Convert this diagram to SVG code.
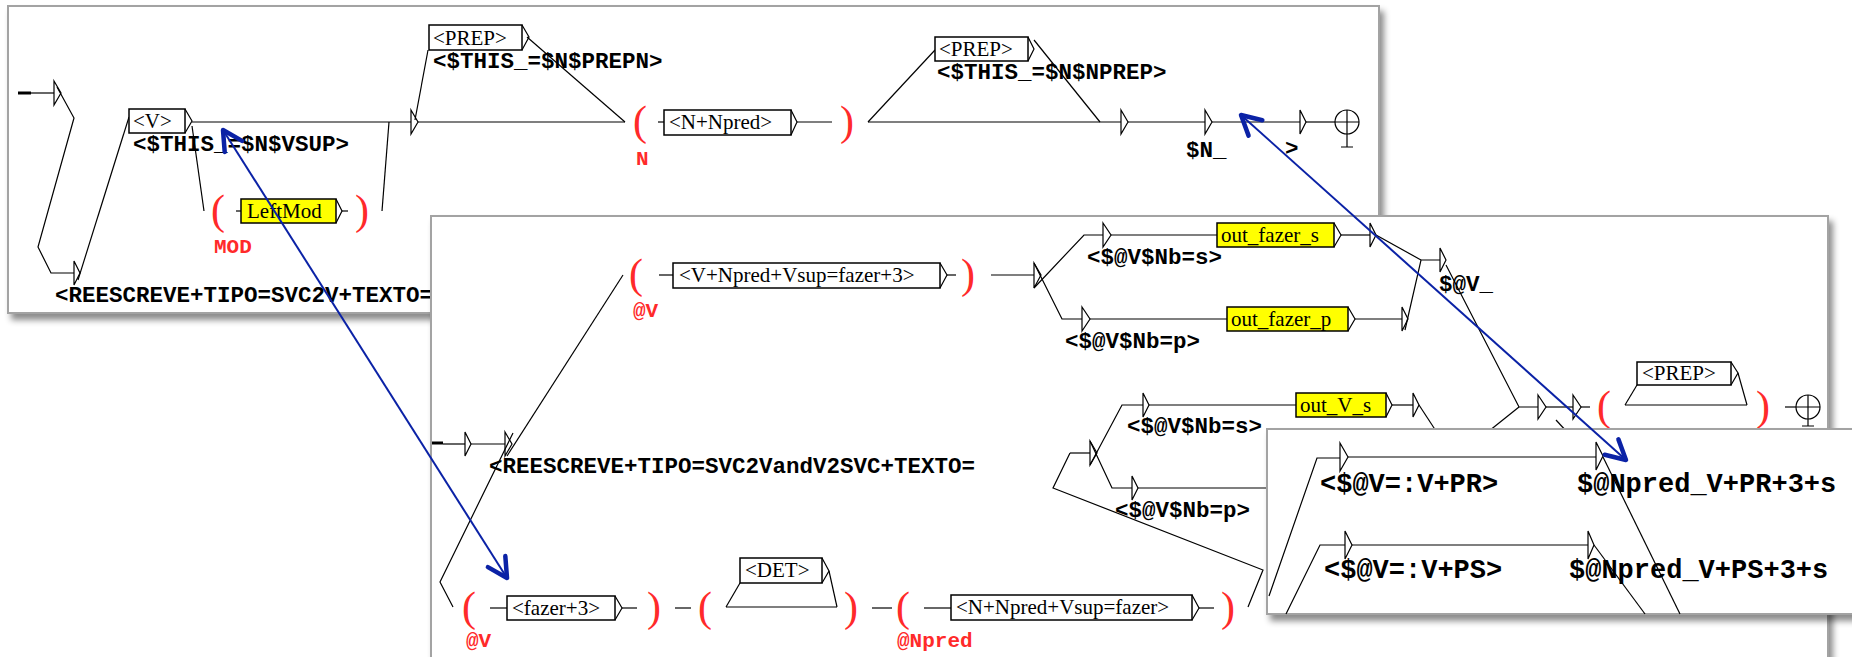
<svg xmlns="http://www.w3.org/2000/svg" width="1852" height="657" viewBox="0 0 1852 657">
<defs>
<filter id="sh" x="-5%" y="-5%" width="112%" height="120%">
<feDropShadow dx="4" dy="6" stdDeviation="3" flood-color="#000" flood-opacity="0.45"/>
</filter>
<marker id="bh" markerUnits="userSpaceOnUse" markerWidth="40" markerHeight="40" refX="0" refY="0" orient="auto-start-reverse" overflow="visible">
<path d="M -19.4 -10.3 L 0 0 L -19.4 10.3" fill="none" stroke="#0b22a6" stroke-width="4.5" stroke-linecap="round" stroke-linejoin="round"/>
</marker>
</defs>
<style>
.win{fill:#fff;stroke:#a3a3a3;stroke-width:2;filter:url(#sh)}
.ln{fill:none;stroke:#000;stroke-width:1.2}
.tk{fill:none;stroke:#000;stroke-width:3}
.tri{fill:none;stroke:#000;stroke-width:1.2}
.box{fill:#fff;stroke:#000;stroke-width:1.5}
.yb{fill:#ffff00;stroke:#000;stroke-width:1.5}
.bt{font-family:"Liberation Serif",serif;font-size:21px;fill:#000}
.out{font-family:"Liberation Mono",monospace;font-weight:bold;font-size:22.5px;fill:#000}
.out3{font-family:"Liberation Mono",monospace;font-weight:bold;font-size:27px;fill:#000}
.var{font-family:"Liberation Mono",monospace;font-weight:bold;font-size:21px;fill:#ff2a2a}
.par{font-family:"Liberation Serif",serif;font-size:42px;fill:#ff2a2a}
.blue{fill:none;stroke:#0b22a6;stroke-width:2;marker-start:url(#bh);marker-end:url(#bh)}
</style>

<!-- ================= WINDOW 1 ================= -->
<g id="window1">
<rect class="win" x="8" y="6" width="1371" height="307"/>
<g id="connectors-w1" class="ln">
<path class="tk" d="M18 93 H31"/>
<path d="M31 93 H54"/>
<path d="M57 87 L74 118 L38 247 L51 273 H74"/>
<path d="M78 280 L129 117"/>
<path d="M192 122 H411"/>
<path d="M192 126 L204 211"/>
<path d="M236 211 H241"/>
<path d="M342 211 H348"/>
<path d="M382 211 L389 122"/>
<path d="M418 122 H625"/>
<path d="M415 120 L428 50"/>
<path d="M527 37 L625 122"/>
<path d="M658 122 H664"/>
<path d="M797 122 H832"/>
<path d="M868 122 H1121"/>
<path d="M868 122 L935 50"/>
<path d="M1034 40 L1100 122"/>
<path d="M1128 122 H1205"/>
<path d="M1212 122 H1300"/>
<path d="M1306 122 H1335"/>
</g>
<g id="w1-init"><polygon class="tri" points="54,81 61,93 54,105"/></g>
<g id="w1-t2"><polygon class="tri" points="74,261 80,273 74,285"/>
<text class="out" x="55" y="302">&lt;REESCREVE+TIPO=SVC2V+TEXTO=</text></g>
<g id="w1-V"><rect class="box" x="129" y="109" width="56" height="24"/><text class="bt" x="133" y="128">&lt;V&gt;</text><polyline class="ln" points="185,109 192,121 185,133"/>
<text class="out" x="133" y="151">&lt;$THIS_=$N$VSUP&gt;</text></g>
<g id="w1-mod"><text class="par" x="211" y="224">(</text>
<rect class="yb" x="241" y="199" width="95" height="24"/><text class="bt" x="247" y="218">LeftMod</text><polyline class="ln" points="336,199 342,211 336,223"/>
<text class="par" x="355" y="224">)</text><text class="var" x="214" y="253">MOD</text></g>
<g id="w1-t3"><polygon class="tri" points="411,110 418,122 411,134"/></g>
<g id="w1-prep1"><rect class="box" x="429" y="25" width="93" height="25"/><text class="bt" x="433" y="45">&lt;PREP&gt;</text><polyline class="ln" points="522,25 529,37 522,50"/>
<text class="out" x="433" y="68">&lt;$THIS_=$N$PREPN&gt;</text></g>
<g id="w1-N"><text class="par" x="633" y="135">(</text>
<rect class="box" x="664" y="110" width="127" height="25"/><text class="bt" x="669" y="129">&lt;N+Npred&gt;</text><polyline class="ln" points="791,110 797,122 791,135"/>
<text class="par" x="840" y="135">)</text><text class="var" x="636" y="165">N</text></g>
<g id="w1-prep2"><rect class="box" x="935" y="37" width="93" height="24"/><text class="bt" x="939" y="56">&lt;PREP&gt;</text><polyline class="ln" points="1028,37 1034,49 1028,61"/>
<text class="out" x="937" y="79">&lt;$THIS_=$N$NPREP&gt;</text></g>
<g id="w1-t4"><polygon class="tri" points="1121,110 1128,122 1121,134"/></g>
<g id="w1-t5"><polygon class="tri" points="1205,110 1212,122 1205,134"/><text class="out" x="1186" y="157">$N_</text></g>
<g id="w1-t6"><polygon class="tri" points="1300,110 1306,122 1300,134"/><text class="out" x="1285" y="155">&gt;</text></g>
<g id="w1-final"><circle class="ln" cx="1347" cy="122" r="12"/><path class="ln" d="M1335 122 H1359 M1347 110 V147 M1341 147 H1353"/></g>
</g>

<!-- ================= WINDOW 2 ================= -->
<g id="window2">
<rect class="win" x="431" y="216" width="1397" height="500"/>
<g id="connectors-w2" class="ln">
<path class="tk" d="M432 443 H443"/>
<path d="M443 444 H465"/>
<path d="M471 444 H505"/>
<path d="M507 456 L623 275"/>
<path d="M513 433 L440 582 L453 607"/>
<path d="M659 275 H673"/>
<path d="M947 275 H956"/>
<path d="M991 275 H1034"/>
<path d="M1034 288 L1084 235 H1103"/>
<path d="M1034 263 L1062 319 H1082"/>
<path d="M1111 235 H1217"/>
<path d="M1341 235 H1370"/>
<path d="M1376 235 L1421 260"/>
<path d="M1090 319 H1227"/>
<path d="M1355 319 H1402"/>
<path d="M1405 330 L1421 260 H1440"/>
<path d="M1446 265 L1519 407 H1538"/>
<path d="M1546 407 H1573"/>
<path d="M1581 407 H1590"/>
<path d="M1625 405 H1747"/>
<path d="M1625 405 L1637 385"/>
<path d="M1738 373 L1747 405"/>
<path d="M1785 407 H1796"/>
<path d="M1519 407 L1489 431"/>
<path d="M1419 405 L1436 431"/>
<path d="M1556 420 L1568 433"/>
<path d="M1070 453 H1090"/>
<path d="M1090 465 L1122 405 H1143"/>
<path d="M1090 441 L1112 488 H1132"/>
<path d="M1149 405 H1296"/>
<path d="M1392 405 H1413"/>
<path d="M1138 488 H1268"/>
<path d="M1248 607 L1263 570 L1053 488 L1070 453"/>
<path d="M490 608 H507"/>
<path d="M622 608 H637"/>
<path d="M675 608 H691"/>
<path d="M726 607 H837"/>
<path d="M726 607 L740 583"/>
<path d="M829 571 L837 607"/>
<path d="M872 608 H892"/>
<path d="M924 608 H951"/>
<path d="M1199 608 H1214"/>
</g>
<g id="w2-init"><polygon class="tri" points="465,432 471,444 465,456"/><text class="out" x="489" y="473">&lt;REESCREVE+TIPO=SVC2VandV2SVC+TEXTO=</text></g>
<g id="w2-x1"><polygon class="tri" points="505,432 512,444 505,456"/></g>
<g id="w2-vnpred"><text class="par" x="629" y="288">(</text>
<rect class="box" x="673" y="263" width="267" height="25"/><text class="bt" x="679" y="282">&lt;V+Npred+Vsup=fazer+3&gt;</text><polyline class="ln" points="940,263 947,275 940,288"/>
<text class="par" x="961" y="288">)</text><text class="var" x="633" y="317">@V</text></g>
<g id="w2-x2"><polygon class="tri" points="1034,263 1041,275 1034,288"/></g>
<g id="w2-nbs"><polygon class="tri" points="1103,223 1111,235 1103,247"/><text class="out" x="1087" y="264">&lt;$@V$Nb=s&gt;</text></g>
<g id="w2-ofs"><rect class="yb" x="1217" y="223" width="117" height="24"/><text class="bt" x="1221" y="242">out_fazer_s</text><polyline class="ln" points="1334,223 1341,235 1334,247"/></g>
<g id="w2-t-ofs"><polygon class="tri" points="1370,223 1376,235 1370,247"/></g>
<g id="w2-nbp"><polygon class="tri" points="1082,307 1090,319 1082,331"/><text class="out" x="1065" y="348">&lt;$@V$Nb=p&gt;</text></g>
<g id="w2-ofp"><rect class="yb" x="1227" y="307" width="121" height="24"/><text class="bt" x="1231" y="326">out_fazer_p</text><polyline class="ln" points="1348,307 1355,319 1348,331"/></g>
<g id="w2-t-ofp"><polygon class="tri" points="1402,307 1408,319 1402,331"/></g>
<g id="w2-v"><polygon class="tri" points="1440,248 1446,260 1440,272"/><text class="out" x="1439" y="291">$@V_</text></g>
<g id="w2-t7"><polygon class="tri" points="1538,395 1546,407 1538,419"/></g>
<g id="w2-t8"><polygon class="tri" points="1573,395 1581,407 1573,419"/></g>
<g id="w2-prep"><text class="par" x="1597" y="420">(</text>
<rect class="box" x="1637" y="362" width="94" height="23"/><text class="bt" x="1642" y="380">&lt;PREP&gt;</text><polyline class="ln" points="1731,362 1738,373 1731,385"/>
<text class="par" x="1756" y="420">)</text></g>
<g id="w2-final"><circle class="ln" cx="1808" cy="407" r="12"/><path class="ln" d="M1796 407 H1820 M1808 395 V426 M1802 426 H1814"/></g>
<g id="w2-x3"><polygon class="tri" points="1090,441 1097,453 1090,465"/></g>
<g id="w2-nbs2"><polygon class="tri" points="1143,393 1149,405 1143,417"/><text class="out" x="1127" y="433">&lt;$@V$Nb=s&gt;</text></g>
<g id="w2-ovs"><rect class="yb" x="1296" y="393" width="90" height="24"/><text class="bt" x="1300" y="412">out_V_s</text><polyline class="ln" points="1386,393 1392,405 1386,417"/></g>
<g id="w2-t-ovs"><polygon class="tri" points="1413,393 1419,405 1413,417"/></g>
<g id="w2-nbp2"><polygon class="tri" points="1132,476 1138,488 1132,500"/><text class="out" x="1115" y="517">&lt;$@V$Nb=p&gt;</text></g>
<g id="w2-fazer"><text class="par" x="462" y="621">(</text>
<rect class="box" x="507" y="596" width="108" height="24"/><text class="bt" x="512" y="615">&lt;fazer+3&gt;</text><polyline class="ln" points="615,596 622,608 615,620"/>
<text class="par" x="647" y="621">)</text><text class="var" x="466" y="647">@V</text></g>
<g id="w2-det"><text class="par" x="698" y="621">(</text>
<rect class="box" x="740" y="558" width="82" height="25"/><text class="bt" x="745" y="577">&lt;DET&gt;</text><polyline class="ln" points="822,558 829,571 822,583"/>
<text class="par" x="844" y="621">)</text></g>
<g id="w2-npred"><text class="par" x="896" y="621">(</text>
<rect class="box" x="951" y="595" width="241" height="25"/><text class="bt" x="956" y="614">&lt;N+Npred+Vsup=fazer&gt;</text><polyline class="ln" points="1192,595 1199,608 1192,620"/>
<text class="par" x="1221" y="621">)</text><text class="var" x="897" y="647">@Npred</text></g>
</g>

<!-- ================= WINDOW 3 ================= -->
<g id="window3">
<rect class="win" x="1267" y="429" width="620" height="185"/>
<g id="connectors-w3" class="ln">
<path d="M1269 596 L1317 458 H1340"/>
<path d="M1348 457 H1596"/>
<path d="M1603 457 L1680 614"/>
<path d="M1286 614 L1320 545 H1345"/>
<path d="M1352 545 H1588"/>
<path d="M1594 545 L1645 614"/>
</g>
<g id="w3-pr"><polygon class="tri" points="1340,443 1348,457 1340,471"/><text class="out3" x="1320" y="492">&lt;$@V=:V+PR&gt;</text></g>
<g id="w3-pr-out"><polygon class="tri" points="1596,442 1603,456 1596,470"/><text class="out3" x="1577" y="492">$@Npred_V+PR+3+s</text></g>
<g id="w3-ps"><polygon class="tri" points="1345,531 1352,545 1345,559"/><text class="out3" x="1324" y="578">&lt;$@V=:V+PS&gt;</text></g>
<g id="w3-ps-out"><polygon class="tri" points="1588,531 1594,545 1588,559"/><text class="out3" x="1569" y="578">$@Npred_V+PS+3+s</text></g>
</g>

<!-- ================= BLUE LINKS ================= -->
<g id="links">
<path class="blue" d="M223 130 L507 578"/>
<path class="blue" d="M1241 115 L1626 460"/>
</g>
</svg>
